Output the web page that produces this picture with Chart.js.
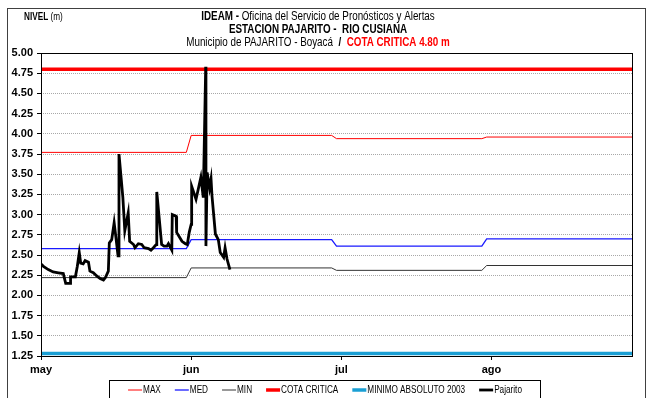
<!DOCTYPE html>
<html>
<head>
<meta charset="utf-8">
<title>Estacion Pajarito - Rio Cusiana</title>
<script src="https://cdn.jsdelivr.net/npm/chart.js@4.4.1/dist/chart.umd.min.js"></script>
<style>
    html, body { margin: 0; padding: 0; background: #ffffff; }
    #grafico { display: block; }
</style>
</head>
<body>
<canvas id="grafico" width="647" height="398"></canvas>
<script>
// Eje x en dias contados desde el 1 de mayo
const monthLabels = ["may", "jun", "jul", "ago"];
const monthTickDays = [0, 31, 62, 93];
const monthStart = [0, 31, 61, 92];
const monthEnd = [30, 60, 91, 122];

// Niveles historicos mensuales (m)
const maxNivel = [3.77, 3.98, 3.94, 3.96];
const medNivel = [2.58, 2.69, 2.61, 2.70];
const minNivel = [2.22, 2.34, 2.31, 2.37];
const cotaCritica = 4.80;
const minimoAbsoluto2003 = 1.28;

// Lecturas de la estacion Pajarito
const pajaritoDias = [
    0.0, 0.5, 1.5, 2.5, 3.6, 4.6, 5.1, 6.0, 6.1, 7.1,
    7.5, 7.9, 8.2, 8.7, 9.1, 9.8, 10.1, 10.8, 11.5, 12.2,
    12.9, 13.3, 13.9, 14.1, 14.6, 15.1, 15.5, 15.9, 16.1, 16.9,
    17.3, 18.0, 18.3, 19.1, 19.4, 20.1, 20.8, 21.3, 22.2, 22.7,
    23.2, 23.8, 23.9, 24.9, 25.4, 26.0, 26.3, 27.0, 27.1, 27.9,
    28.0, 29.1, 29.8, 30.2, 30.6, 31.0, 31.1, 32.0, 33.0, 33.5,
    34.0, 34.05, 34.3, 34.8, 35.1, 35.3, 36.0, 36.6, 37.0, 37.7,
    38.0, 38.4, 39.0
];
const pajaritoNivel = [
    2.39, 2.36, 2.32, 2.29, 2.28, 2.27, 2.15, 2.15, 2.23, 2.23,
    2.36, 2.53, 2.40, 2.39, 2.43, 2.41, 2.30, 2.28, 2.24, 2.21,
    2.19, 2.22, 2.30, 2.65, 2.69, 2.90, 2.70, 2.49, 3.75, 3.21,
    2.80, 3.02, 2.67, 2.63, 2.59, 2.64, 2.63, 2.59, 2.58, 2.56,
    2.59, 2.63, 3.28, 2.63, 2.61, 2.61, 2.64, 2.56, 3.00, 2.98,
    2.78, 2.67, 2.64, 2.63, 2.78, 2.88, 3.35, 3.19, 3.46, 3.21,
    4.83, 2.61, 3.52, 3.33, 3.44, 3.23, 2.76, 2.69, 2.53, 2.47,
    2.59, 2.45, 2.32
];

const DIA_FINAL = 122;

// Escalon mensual: cada mes es un tramo plano, unido al siguiente
function serieMensual(valores) {
    const puntos = [];
    valores.forEach((v, i) => {
        puntos.push({ x: monthStart[i], y: v });
        puntos.push({ x: monthEnd[i], y: v });
    });
    return puntos;
}

function serieConstante(v) {
    return [{ x: 0, y: v }, { x: DIA_FINAL, y: v }];
}

const canvas = document.getElementById("grafico");
const ctx0 = canvas.getContext("2d");

// Fuente angosta si esta instalada; si no, se comprime la normal
const NARROW = '"Liberation Sans Narrow", "Arial Narrow"';
function fuenteDisponible(nombre) {
    ctx0.font = "20px " + nombre + ", monospace";
    const a = ctx0.measureText("MINIMO ABSOLUTO abc").width;
    ctx0.font = "20px monospace";
    const b = ctx0.measureText("MINIMO ABSOLUTO abc").width;
    return a !== b;
}
const hayNarrow = fuenteDisponible('"Liberation Sans Narrow"');
const FAMILIA = hayNarrow ? NARROW : '"Liberation Sans", Arial';
const COMPRIME = hayNarrow ? 1 : 0.82;

function fuente(peso, tam) {
    return (peso === "bold" ? "bold " : "") + tam + "px " + FAMILIA;
}

// Dibuja varios tramos de texto con distinto estilo en una linea
function textoMixto(ctx, tramos, x, y, alinear) {
    ctx.save();
    ctx.textBaseline = "middle";
    ctx.textAlign = "left";
    let total = 0;
    tramos.forEach(t => {
        ctx.font = t.font;
        t.w = ctx.measureText(t.text).width;
        total += t.w;
    });
    ctx.translate(x, y);
    ctx.scale(COMPRIME, 1);
    let cx = alinear === "center" ? -total / 2 : 0;
    tramos.forEach(t => {
        ctx.font = t.font;
        ctx.fillStyle = t.color || "#000000";
        ctx.fillText(t.text, cx, 0);
        cx += t.w;
    });
    ctx.restore();
    return total * COMPRIME;
}

const marcoPlugin = {
    id: "marco",
    beforeDraw(chart) {
        const ctx = chart.ctx;
        ctx.save();
        ctx.fillStyle = "#ffffff";
        ctx.fillRect(0, 0, chart.width, chart.height);
        ctx.restore();
    },
    afterDraw(chart) {
        const ctx = chart.ctx;
        const a = chart.chartArea;
        ctx.save();

        // marco exterior
        ctx.strokeStyle = "#404040";
        ctx.lineWidth = 1;
        ctx.strokeRect(7.5, 8.5, 638, 420);

        // borde del area de trazado
        ctx.strokeStyle = "#000000";
        ctx.strokeRect(Math.round(a.left) + 0.5, Math.round(a.top) + 0.5,
            Math.round(a.right - a.left), Math.round(a.bottom - a.top));

        // titulos
        textoMixto(ctx, [
            { text: "NIVEL", font: fuente("bold", 10) },
            { text: " (m)", font: fuente("normal", 10) }
        ], 24, 17, "left");
        textoMixto(ctx, [
            { text: "IDEAM - ", font: fuente("bold", 12) },
            { text: "Oficina del Servicio de Pronósticos y Alertas", font: fuente("normal", 12) }
        ], 318, 17, "center");
        textoMixto(ctx, [
            { text: "ESTACION PAJARITO -  RIO CUSIANA", font: fuente("bold", 12) }
        ], 318, 30, "center");
        textoMixto(ctx, [
            { text: "Municipio de PAJARITO - Boyacá  ", font: fuente("normal", 12) },
            { text: "/  ", font: fuente("bold", 12) },
            { text: "COTA CRITICA 4.80 m", font: fuente("bold", 12), color: "#ff0000" }
        ], 318, 43, "center");

        // leyenda
        ctx.strokeStyle = "#000000";
        ctx.lineWidth = 1;
        ctx.strokeRect(109.5, 380.5, 431, 30);
        const muestra = 14;
        const items = chart.data.datasets.map(ds => {
            ctx.font = fuente("normal", 10);
            return { ds, w: muestra + 1 + ctx.measureText(ds.label).width * COMPRIME };
        });
        const hueco = 14;
        const ancho = items.reduce((s, it) => s + it.w, 0) + hueco * (items.length - 1);
        let x = 325 - ancho / 2;
        const yl = 390;
        items.forEach(it => {
            ctx.beginPath();
            ctx.strokeStyle = it.ds.borderColor;
            ctx.lineWidth = it.ds.borderWidth;
            ctx.moveTo(x, yl);
            ctx.lineTo(x + muestra, yl);
            ctx.stroke();
            textoMixto(ctx, [{ text: it.ds.label, font: fuente("normal", 10) }], x + muestra + 1, yl, "left");
            x += it.w + hueco;
        });
        ctx.restore();
    }
};

new Chart(canvas, {
    type: "line",
    data: {
        datasets: [
            { label: "MAX", data: serieMensual(maxNivel), borderColor: "#ff0000", borderWidth: 1 },
            { label: "MED", data: serieMensual(medNivel), borderColor: "#1a1aff", borderWidth: 1.3 },
            { label: "MIN", data: serieMensual(minNivel), borderColor: "#333333", borderWidth: 1 },
            { label: "COTA CRITICA", data: serieConstante(cotaCritica), borderColor: "#ff0000", borderWidth: 3.5 },
            { label: "MINIMO ABSOLUTO 2003", data: serieConstante(minimoAbsoluto2003), borderColor: "#1a9fd4", borderWidth: 3.5 },
            {
                label: "Pajarito",
                data: pajaritoDias.map((d, i) => ({ x: d, y: pajaritoNivel[i] })),
                borderColor: "#000000",
                borderWidth: 2.8,
                order: -1
            }
        ]
    },
    options: {
        responsive: false,
        animation: false,
        events: [],
        elements: {
            point: { radius: 0 },
            line: { tension: 0, borderJoinStyle: "miter", borderCapStyle: "butt" }
        },
        layout: { padding: { top: 53, right: 15, left: 0, bottom: 0 } },
        plugins: {
            legend: { display: false },
            title: { display: false },
            tooltip: { enabled: false }
        },
        scales: {
            x: {
                type: "linear",
                min: 0,
                max: DIA_FINAL,
                afterBuildTicks: scale => {
                    scale.ticks = monthTickDays.map(v => ({ value: v }));
                },
                afterFit: scale => { scale.height = 42; },
                ticks: {
                    autoSkip: false,
                    maxRotation: 0,
                    padding: 3,
                    color: "#000000",
                    font: { family: '"Liberation Sans", Arial', size: 11, weight: "bold" },
                    callback: value => monthLabels[monthTickDays.indexOf(value)]
                },
                grid: {
                    drawOnChartArea: false,
                    drawTicks: true,
                    tickLength: 4,
                    tickColor: "#000000"
                },
                border: { display: false }
            },
            y: {
                min: 1.25,
                max: 5,
                afterFit: scale => { scale.width = 41; },
                ticks: {
                    stepSize: 0.25,
                    padding: 4,
                    color: "#000000",
                    font: { family: '"Liberation Sans", Arial', size: 11, weight: "bold" },
                    callback: value => value.toFixed(2)
                },
                grid: {
                    color: "#a8a8a8",
                    lineWidth: 1,
                    tickLength: 4,
                    tickColor: "#000000",
                    tickBorderDash: []
                },
                border: { display: false, dash: [1, 1] }
            }
        }
    },
    plugins: [marcoPlugin]
});
</script>
</body>
</html>
